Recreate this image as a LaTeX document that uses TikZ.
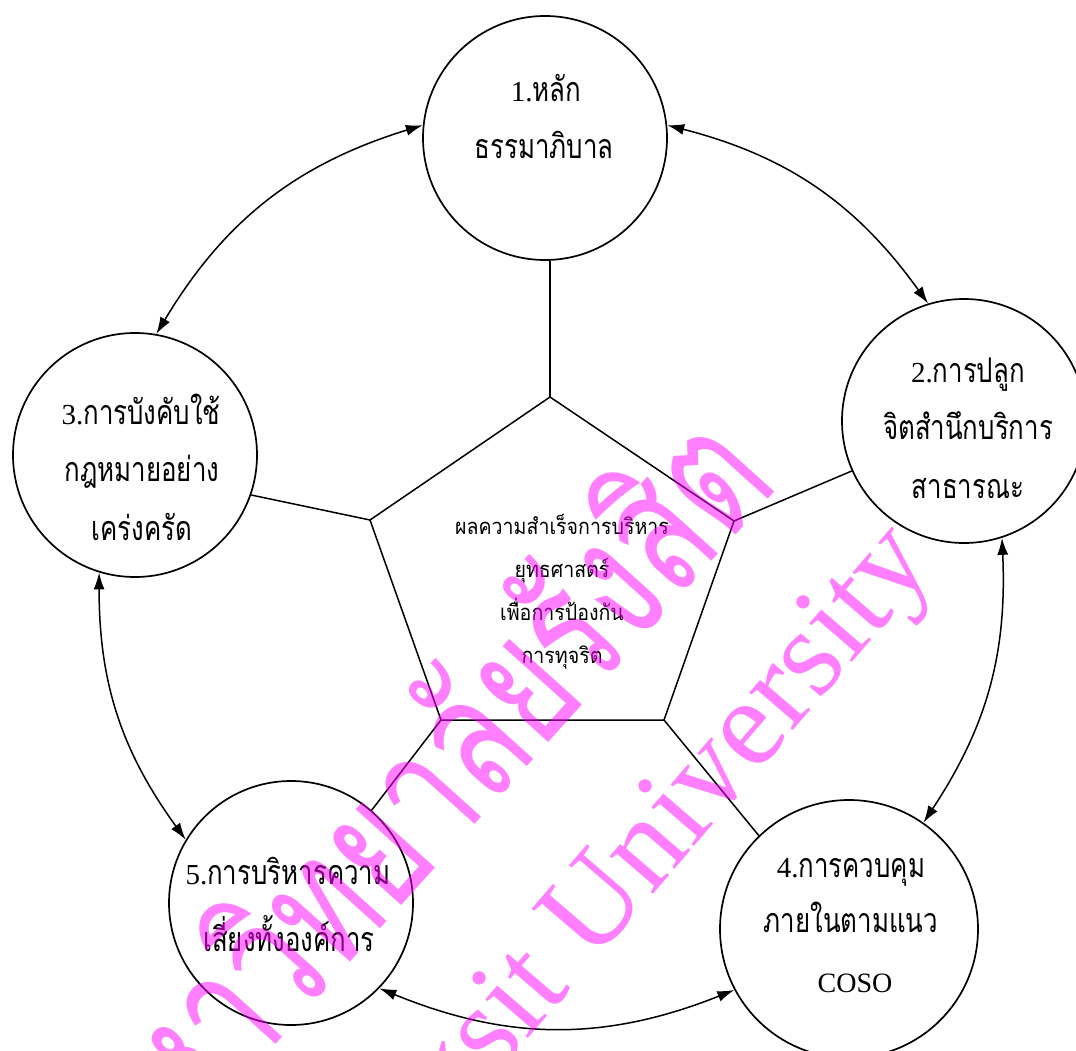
\documentclass[tikz,border=0pt]{standalone}
\usepackage{fontspec}
\setmainfont{Liberation Serif}
\newfontfamily\thai[Script=Thai,FakeStretch=0.76]{Loma}
\newfontfamily\thaip[Script=Thai,FakeStretch=0.89]{Loma}
\newfontfamily\thaiw[Script=Thai,FakeStretch=0.71]{Loma}
\usetikzlibrary{arrows.meta}
\newcommand\latn[1]{{\rmfamily\fontsize{29}{29}\selectfont #1}}
\definecolor{wmcol}{RGB}{255,0,255}
\begin{document}
\begin{tikzpicture}[x=1pt,y=-1pt,
  bub/.style={draw,circle,line width=1.7pt,inner sep=0pt},
  link/.style={line width=1.5pt},
  dbl/.style={line width=1.5pt,{Latex[length=17pt,width=11pt]}-{Latex[length=17pt,width=11pt]}},
  ln/.style={inner sep=0pt,font=\thai\fontsize{34}{34}\selectfont,text height=19.7pt,text depth=0pt},
  pln/.style={inner sep=0pt,font=\thaip\fontsize{22}{22}\selectfont,text height=12.8pt,text depth=0pt},
  wm/.style={text=wmcol,text opacity=0.5,inner sep=0pt}]
\useasboundingbox (0,0) rectangle (1076,1051);
% circles
\node[bub,minimum size=244pt] (c1) at (545,138) {};
\node[bub,minimum size=244pt] (c2) at (964,421) {};
\node[bub,minimum size=244pt] (c3) at (135,455) {};
\node[bub,minimum size=258pt] (c4) at (849,929) {};
\node[bub,minimum size=244pt] (c5) at (291,903) {};
% pentagon
\coordinate (p1) at (550,397);
\coordinate (p2) at (734,521);
\coordinate (p3) at (664,720);
\coordinate (p4) at (441,720);
\coordinate (p5) at (370,520);
\draw[link] (p1)--(p2)--(p3)--(p4)--(p5)--cycle;
\draw[link] (p1) -- (p1 |- c1.south);
\draw[link] (p2) -- (c2.204);
\draw[link] (p5) -- (c3.341);
\draw[link] (p4) -- (c5.49);
\draw[link] (p3) -- (c4.134);
% curved double arrows
\draw[dbl] (c1.174) to[bend right=21] (c3.80);
\draw[dbl] (c1.6) to[bend left=20] (c2.107);
\draw[dbl] (c3.253) to[bend right=18] (c5.149);
\draw[dbl] (c2.288) to[bend left=18] (c4.55);
\draw[dbl] (c5.316) to[bend right=22] (c4.208);
% texts
\node[ln] (t1a) at (546,92) {\latn{1.}หลัก};
\node[ln] (t1b) at (544,149) {ธรรมาภิบาล};
\node[ln] (t2a) at (968,373) {\latn{2.}การปลูก};
\node[ln] (t2b) at (968,430) {จิตสำนึกบริการ};
\node[ln] (t2c) at (968,489) {สาธารณะ};
\node[ln] (t3a) at (141,415) {\latn{3.}การบังคับใช้};
\node[ln] (t3b) at (142,472) {กฎหมายอย่าง};
\node[ln] (t3c) at (142,531) {เคร่งครัด};
\node[ln] (t4a) at (851,868) {\latn{4.}การควบคุม};
\node[ln] (t4b) at (851,923) {ภายในตามแนว};
\node[ln] (t4c) at (855,983) {{\rmfamily\fontsize{28}{28}\selectfont COSO}};
\node[ln] (t5a) at (288,875) {\latn{5.}การบริหารความ};
\node[ln] (t5b) at (289,942) {เสี่ยงทั้งองค์การ};
\node[pln] (tpa) at (562,528) {ผลความสำเร็จการบริหาร};
\node[pln] (tpb) at (562,571) {ยุทธศาสตร์};
\node[pln] (tpc) at (562,614) {เพื่อการป้องกัน};
\node[pln] (tpd) at (562,657) {การทุจริต};
% watermark
\begin{scope}
\clip (0,0) rectangle (1076,1051);
\node[wm,rotate=48,anchor=east,font=\thaiw\fontsize{176}{176}\selectfont,text height=98pt,text depth=0pt] (wth) at (744,452) {มหาวิทยาลัยรังสิต};
\node[wm,rotate=49.3,anchor=base west,font=\rmfamily\fontsize{125}{125}\selectfont] (wen) at (323,1278) {Rangsit University};
\end{scope}
\end{tikzpicture}
\end{document}
